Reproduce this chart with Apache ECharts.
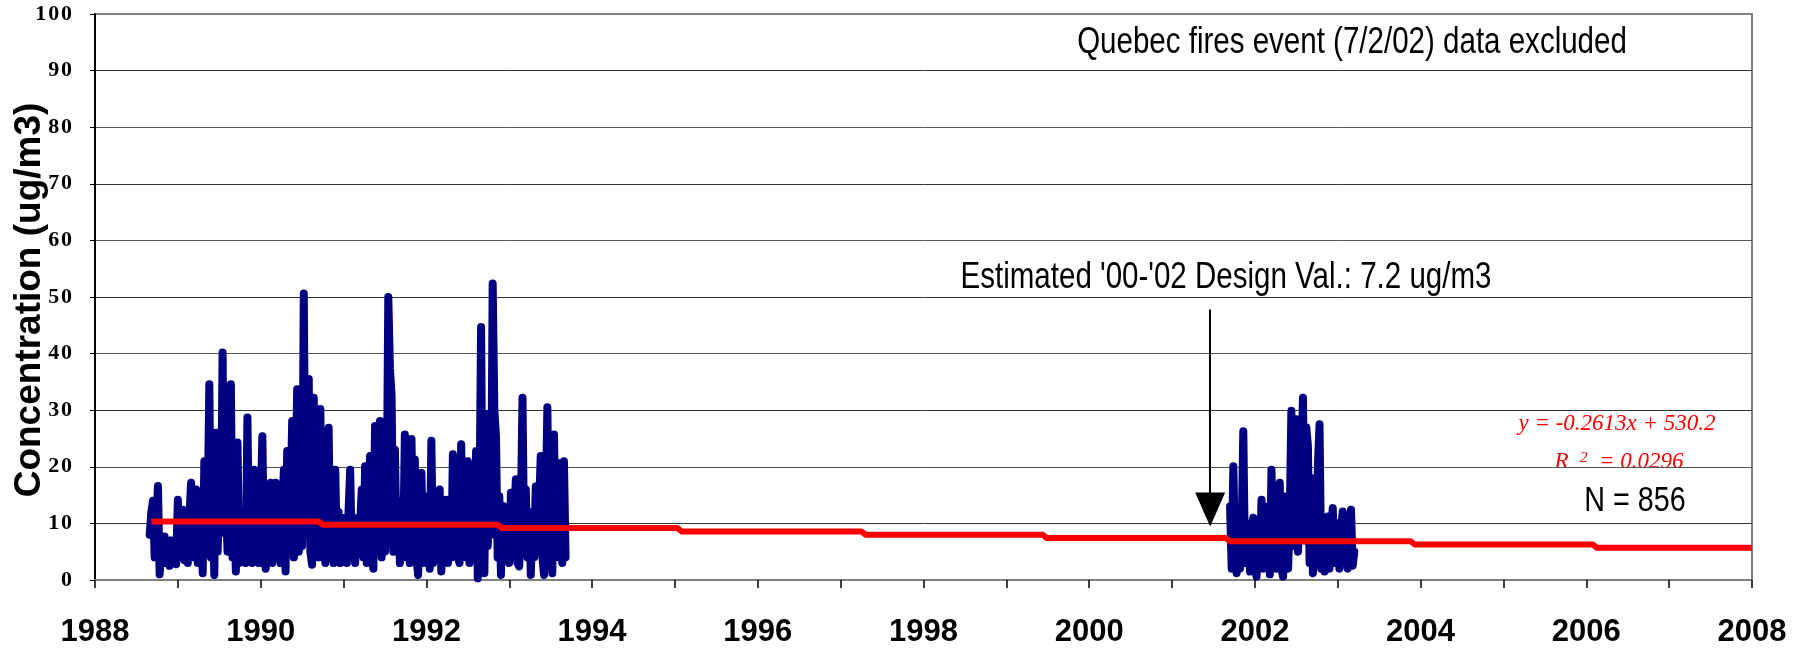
<!DOCTYPE html>
<html>
<head>
<meta charset="utf-8">
<title>Concentration (ug/m3)</title>
<script src="https://cdn.jsdelivr.net/npm/echarts@6.0.0/dist/echarts.min.js"></script>
<style>
  html, body { margin: 0; padding: 0; background: #fff; }
  #chart { width: 1804px; height: 649px; }
</style>
</head>
<body>
<div id="chart"></div>
<script>
// sampling schedule, decimal years
var period1Start = 1988.66;
var period2Start = 2001.70;
var sampleStep = 0.02;

// 1988-1993 samples (ug/m3)
var period1Values = [
  8, 12, 14, 4, 10, 16.6, 1, 6, 3, 7.7,
  3, 6.5, 2.5, 7, 3, 6, 2.8, 14.2, 4, 8,
  12.4, 3.5, 9, 3, 11, 17.2, 4, 10, 16, 3,
  11, 12.4, 1.2, 21, 5, 12, 34.6, 4, 13, 0.9,
  26, 5, 14, 9, 40.2, 8.3, 13, 5, 12, 34.6,
  4, 13, 1.5, 24.3, 3, 11, 4, 12, 3, 28.7,
  4, 11, 3, 19.5, 5, 12, 3, 13, 25.4, 4,
  2, 12, 4, 17.2, 3, 11, 17.2, 4, 12, 3,
  13, 19.5, 1.5, 22.8, 5, 14, 28.1, 4, 15, 33.7,
  5, 14, 6, 50.6, 8, 20, 35.5, 5, 2.7, 32.2,
  6, 18, 4, 30.2, 5, 15, 3, 14, 26.9, 4,
  13, 3, 19.5, 4, 12, 3, 11, 4, 10, 3,
  12, 19.5, 4, 11, 3, 10, 5, 10, 16, 4,
  20.1, 3, 12, 21.9, 4, 2, 27.2, 5, 14, 28.1,
  4, 15, 5, 12, 50, 37.3, 32.5, 5, 23, 6,
  12, 3, 14, 5, 25.7, 4, 13, 3, 24.9, 5,
  21.3, 4, 0.9, 12, 18.9, 3, 14.8, 4, 12, 2,
  24.6, 3, 12, 4, 11, 16, 1.5, 12, 4, 14.2,
  3, 12, 4, 22.2, 5, 12, 4, 3, 24, 5,
  13, 4, 21, 3, 12, 13.6, 4, 22.8, 0.3, 12,
  44.7, 5, 1.2, 29.3, 6, 14, 8, 52.4, 30, 25.4,
  4, 14.8, 0.9, 12, 13, 4, 12, 3, 15.4, 4,
  11, 17.8, 3, 2.4, 12, 32.2, 5, 16, 4, 12,
  0.9, 11, 4, 16.5, 5, 13, 21.9, 4, 0.9, 12,
  30.5, 6, 14, 1.2, 25.7, 5, 20.7, 4, 17.2, 3,
  21, 4
];

// 2001-2003 samples (ug/m3)
var period2Values = [
  13, 2, 20.1, 5, 1.2, 9, 2, 8, 26.3, 3,
  8, 10, 1.5, 9, 11, 2, 0.6, 8, 3, 14.2,
  2, 13, 3, 9, 1, 19.5, 3, 13.6, 2, 9,
  17.2, 2, 0.6, 9, 14.8, 2,
  10, 29.9, 6, 26, 28.4, 5, 12, 20, 32.2, 7, 27, 23.7, 3, 18,
  1.2, 10, 3, 20, 27.5, 2, 9.5, 1.5, 9, 11.2,
  2, 9, 12.7, 3, 8, 10, 2, 9, 12.1, 3,
  8, 2, 9, 12.4, 2.5, 5
];

// trendline (drawn stepped, as in the original)
var trendYears = [1988.68, 1990.70, 1990.75, 1992.86, 1992.91, 1995.03, 1995.08, 1997.25, 1997.30,
  1999.44, 1999.49, 2001.65, 2001.70, 2003.88, 2003.93, 2006.08, 2006.13, 2008];
var trendValues = [10.35, 10.35, 9.76, 9.76, 9.17, 9.17, 8.58, 8.58, 7.99,
  7.99, 7.40, 7.40, 6.85, 6.85, 6.27, 6.27, 5.68, 5.68];

// design value arrow
var arrowYear = 2001.46;
var arrowFrom = 47.8;
var arrowTo = 12.45;

var sans = "'Liberation Sans', Arial, sans-serif";
var serif = "'Liberation Serif', 'Times New Roman', serif";

function toPairs(start, values) {
  return values.map(function (v, i) {
    return [+(start + i * sampleStep).toFixed(3), v];
  });
}

var blueLine = { color: '#000080', width: 8, cap: 'round', join: 'round' };

var myChart = echarts.init(document.getElementById('chart'));
myChart.setOption({
  animation: false,
  grid: {
    left: 95, right: 52, top: 14, bottom: 69,
    show: true, borderColor: '#808080', borderWidth: 2,
    outerBoundsMode: 'none'
  },
  xAxis: {
    type: 'value', min: 1988, max: 2008, interval: 1,
    axisLine: { lineStyle: { color: '#808080', width: 2 } },
    axisTick: { length: 8, lineStyle: { color: '#000', width: 1.5 } },
    splitLine: { show: false },
    axisLabel: {
      margin: 37, color: '#000', fontFamily: sans, fontWeight: 'bold', fontSize: 31,
      showMinLabel: true, showMaxLabel: true,
      formatter: function (v) { return v % 2 === 0 ? String(v) : ''; }
    }
  },
  yAxis: {
    type: 'value', min: 0, max: 100, interval: 10,
    axisLine: { show: true, lineStyle: { color: '#000', width: 2 } },
    axisTick: { show: true, length: 5, lineStyle: { color: '#000' } },
    axisLabel: {
      margin: 23, color: '#000', fontFamily: serif, fontWeight: 'bold', fontSize: 22,
      formatter: function (v) { return String(v).split('').join('\u200A'); }
    },
    splitLine: {
      lineStyle: {
        width: 1,
        color: ['#808080', '#333', '#555', '#333', '#555', '#333', '#555', '#333', '#555', '#333', '#808080']
      }
    }
  },
  series: [
    {
      name: '1988-1993', type: 'line', showSymbol: false, silent: true,
      data: toPairs(period1Start, period1Values), lineStyle: blueLine, z: 2
    },
    {
      name: '2001-2003', type: 'line', showSymbol: false, silent: true,
      data: toPairs(period2Start, period2Values), lineStyle: blueLine, z: 2
    },
    {
      name: 'trend', type: 'line', showSymbol: false, silent: true,
      data: trendYears.map(function (y, i) { return [y, trendValues[i]]; }),
      lineStyle: { color: '#ff0000', width: 6, join: 'round' }, z: 3,
      markLine: {
        silent: true, animation: false,
        label: { show: false },
        lineStyle: { color: '#000', width: 2, type: 'solid' },
        data: [[
          { coord: [arrowYear, arrowFrom], symbol: 'none' },
          { coord: [arrowYear, arrowTo], symbol: 'triangle', symbolSize: [30, 34] }
        ]]
      }
    }
  ],
  graphic: [
    {
      // y axis title
      type: 'text', x: 30, y: 300, rotation: Math.PI / 2, silent: true,
      style: { text: 'Concentration (ug/m3)', fill: '#000', font: 'bold 37px ' + sans, align: 'center', verticalAlign: 'middle' }
    },
    {
      type: 'text', x: 1352, y: 43, scaleX: 0.82, silent: true,
      style: { text: 'Quebec fires event (7/2/02) data excluded', fill: '#000', font: '36px ' + sans, align: 'center', verticalAlign: 'middle' }
    },
    {
      type: 'text', x: 1226, y: 278, scaleX: 0.82, silent: true,
      style: { text: "Estimated '00-'02 Design Val.: 7.2 ug/m3", fill: '#000', font: '36px ' + sans, align: 'center', verticalAlign: 'middle' }
    },
    {
      type: 'text', x: 1617, y: 424, silent: true,
      style: { text: 'y = -0.2613x + 530.2', fill: '#ff0000', font: 'italic 23px ' + serif, align: 'center', verticalAlign: 'middle' }
    },
    {
      type: 'text', x: 1619, y: 462, silent: true,
      style: {
        text: '{r|R  }{s|2}{r|  = 0.0296}', align: 'center', verticalAlign: 'middle',
        rich: {
          r: { fill: '#ff0000', fontStyle: 'italic', fontSize: 23, fontFamily: 'Liberation Serif' },
          s: { fill: '#ff0000', fontStyle: 'italic', fontSize: 15, fontFamily: 'Liberation Serif', verticalAlign: 'top' }
        }
      }
    },
    {
      type: 'text', x: 1635, y: 501, scaleX: 0.82, silent: true,
      style: { text: 'N = 856', fill: '#000', font: '35px ' + sans, align: 'center', verticalAlign: 'middle' }
    }
  ]
});
</script>
</body>
</html>
